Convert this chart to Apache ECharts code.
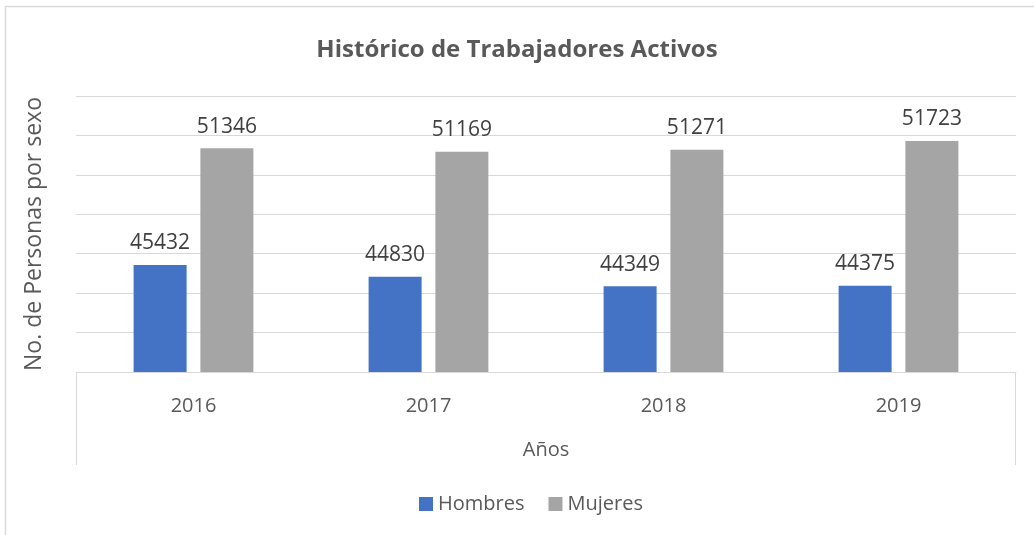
<!DOCTYPE html>
<html>
<head>
<meta charset="utf-8">
<script src="https://cdn.jsdelivr.net/npm/echarts@6/dist/echarts.min.js"></script>
<style>
  html, body { margin: 0; padding: 0; background: #fff; }
  #main { width: 1034px; height: 535px; }
</style>
</head>
<body>
<div id="main"></div>
<script>
// datos del gráfico
var years = ["2016", "2017", "2018", "2019"];
var hombres = [45432, 44830, 44349, 44375];
var mujeres = [51346, 51169, 51271, 51723];

var myChart = echarts.init(document.getElementById("main"));

var font = "'Open Sans', sans-serif";
var gridColor = "#d9d9d9";

var option = {
  backgroundColor: "#fff",
  textStyle: { fontFamily: font },
  title: {
    text: "Histórico de Trabajadores Activos",
    left: "center",
    top: 33,
    textStyle: { fontFamily: font, fontSize: 24, fontWeight: "bold", color: "#595959" }
  },
  legend: {
    bottom: 16,
    left: 414,
    icon: "rect",
    itemWidth: 14,
    itemHeight: 14,
    itemGap: 24,
    textStyle: { fontFamily: font, fontSize: 20, color: "#595959" },
    data: ["Hombres", "Mujeres"]
  },
  grid: { left: 76, right: 18, top: 96, bottom: 163 },
  xAxis: {
    type: "category",
    data: years,
    name: "Años",
    nameLocation: "middle",
    nameGap: 68,
    nameTextStyle: { fontFamily: font, fontSize: 20, color: "#595959" },
    axisLine: { lineStyle: { color: gridColor } },
    axisTick: { show: false },
    axisLabel: { fontFamily: font, fontSize: 20, color: "#595959", margin: 24 }
  },
  yAxis: {
    type: "value",
    min: 40000,
    max: 54000,
    interval: 2000,
    name: "No. de Personas por sexo",
    nameLocation: "middle",
    nameGap: 30,
    nameTextStyle: { fontFamily: font, fontSize: 23, color: "#595959" },
    axisLabel: { show: false },
    axisLine: { show: false },
    axisTick: { show: false },
    splitLine: { lineStyle: { color: gridColor, width: 1 } }
  },
  series: [
    {
      name: "Hombres",
      type: "bar",
      data: hombres,
      barWidth: 53,
      barGap: "26%",
      itemStyle: { color: "#4472c4" },
      label: { show: true, position: "top", distance: 11, fontFamily: font, fontSize: 21, color: "#404040" }
    },
    {
      name: "Mujeres",
      type: "bar",
      data: mujeres,
      barWidth: 53,
      itemStyle: { color: "#a5a5a5" },
      label: { show: true, position: "top", distance: 11, fontFamily: font, fontSize: 21, color: "#404040" }
    }
  ],
  graphic: [
    {
      type: "rect",
      shape: { x: 5.5, y: 6.5, width: 1100, height: 600 },
      style: { fill: null, stroke: gridColor, lineWidth: 1.5 },
      silent: true
    },
    {
      type: "line",
      shape: { x1: 76.5, y1: 372, x2: 76.5, y2: 465 },
      style: { stroke: gridColor, lineWidth: 1 },
      silent: true
    },
    {
      type: "line",
      shape: { x1: 1015.5, y1: 372, x2: 1015.5, y2: 465 },
      style: { stroke: gridColor, lineWidth: 1 },
      silent: true
    }
  ]
};

myChart.setOption(option);
</script>
</body>
</html>
